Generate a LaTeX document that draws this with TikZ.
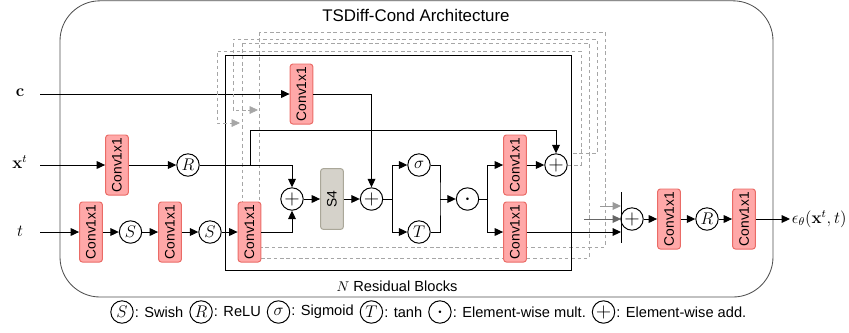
\documentclass[tikz,border=0pt]{standalone}
\usepackage[no-math]{fontspec}
\setmainfont{Liberation Sans}
\usepackage{amsmath}
\usepackage{bm}
\usepackage{tikz}
\usetikzlibrary{arrows.meta,positioning}

\definecolor{convfill}{HTML}{FFA8A8}
\definecolor{convline}{HTML}{EA6B66}
\definecolor{sfourfill}{HTML}{D5D2CA}
\definecolor{sfourline}{HTML}{AAA799}
\definecolor{stackgray}{HTML}{A6A6A6}
\definecolor{framegray}{HTML}{505050}

\newcommand{\convtext}{\rotatebox{90}{Conv1x1}}

\begin{document}
\begin{tikzpicture}
		[%%%%%%%%%%%%%%%%%%%%%%%%%%%%%%
		x=0.025cm, y=-0.025cm, line width=0.7pt,
		conv/.style={rectangle,draw=convline,fill=convfill,rounded corners=2pt,minimum width=0.57cm,minimum height=1.5cm,inner sep=0pt,font=\fontsize{9.8}{11}\selectfont},
		sfour/.style={rectangle,draw=sfourline,fill=sfourfill,rounded corners=2pt,minimum width=0.57cm,minimum height=1.52cm,inner sep=0pt,font=\fontsize{9.8}{11}\selectfont},
		op/.style={circle,draw=black,fill=white,minimum size=0.56cm,inner sep=0pt,font=\fontsize{12}{13}\selectfont},
		plus/.style={op,font=\fontsize{14}{15}\selectfont},
		inp/.style={font=\fontsize{12}{14}\selectfont},
		legtxt/.style={inner xsep=0.5pt,inner ysep=0pt,font=\fontsize{10.4}{12}\selectfont},
		arr/.style={-{Triangle[length=6pt,width=5.5pt]}},
		stack/.style={draw=stackgray,dash pattern=on 2.5pt off 2pt,line width=0.5pt},
		]%%%%%%%%%%%%%%%%%%%%%%%%%%%%%%
		
		\useasboundingbox (0,0) rectangle (849,332);
		
		% frame and title
		\draw[framegray,line width=0.6pt,rounded corners=1cm] (60,0.8) rectangle (773,297);
		\node[font=\fontsize{12}{14}\selectfont] (title) at (416,15) {TSDiff-Cond Architecture};
		
		% stacked blocks behind
		\draw[stack] (259,32) rectangle (605,247);
		\draw[stack] (242,43) rectangle (589,258);
		
		% front residual block
		\draw[line width=0.6pt] (225,55) rectangle (571,270);
		\node[legtxt] (nblocks) at (397,286) {$N$ Residual Blocks};
		
		% inputs
		\node[inp] (lc) at (20,93) {$\mathbf{c}$};
		\node[inp] (lx) at (20,162) {$\mathbf{x}^t$};
		\node[inp] (lt) at (20,231) {$t$};
		\coordinate (cin) at (40,94);
		\coordinate (xin) at (40,165);
		\coordinate (tin) at (40,232);
		
		% conv blocks
		\foreach \n/\x/\y in {cconv/301.5/94, xconv/117/165, tconv1/91/232, tconv2/170/232, tconv3/249.5/232,
			rconv1/515/165, rconv2/515/232, oconv1/669/219, oconv2/744/219}
		\node[conv] (\n) at (\x,\y) {\convtext};
		\node[sfour] (s4) at (332,199) {\rotatebox{90}{S4}};
		
		% operators
		\node[op] (xrelu) at (188,165) {$R$};
		\node[op] (swish1) at (130.5,232) {$S$};
		\node[op] (swish2) at (210,232) {$S$};
		\node[plus] (add1) at (292,199) {$+$};
		\node[plus] (add2) at (371.5,199) {$+$};
		\node[op] (sig) at (419,165) {$\sigma$};
		\node[op] (tanh) at (419,232) {$T$};
		\node[op] (mult) at (467.5,199) {$\boldsymbol{\cdot}$};
		\node[plus] (add3) at (556,165) {$+$};
		\node[plus] (add4) at (632,219) {$+$};
		\node[op] (orelu) at (707,219) {$R$};
		\node[inp,anchor=west,inner sep=1pt] (out) at (790,219) {$\epsilon_\theta(\mathbf{x}^t,t)$};
		
		% helper points
		\coordinate (skip) at (250,130);
		\coordinate (split1) at (392,199);
		\coordinate (join1) at (440,199);
		\coordinate (split2) at (487,199);
		\coordinate (bar) at (621,219);
		\coordinate (bartop) at (621,192);
		\coordinate (barbot) at (621,243);
		
		% condition and input paths
		\draw[arr] (cin) -- (cconv);
		\draw[arr] (cconv) -| (add2);
		\draw[arr] (xin) -- (xconv);
		\draw[arr] (xconv) -- (xrelu);
		\draw[arr] (xrelu) -| (skip) -| (add3);
		\draw[arr] (xrelu) -| (add1);
		
		% diffusion step path
		\draw[arr] (tin) -- (tconv1);
		\draw[arr] (tconv1) -- (swish1);
		\draw[arr] (swish1) -- (tconv2);
		\draw[arr] (tconv2) -- (swish2);
		\draw[arr] (swish2) -- (tconv3);
		\draw[arr] (tconv3) -| (add1);
		
		% residual block body
		\draw[arr] (add1) -- (s4);
		\draw[arr] (s4) -- (add2);
		\draw (add2) -- (split1);
		\draw[arr] (split1) |- (sig);
		\draw[arr] (split1) |- (tanh);
		\draw (sig) -| (join1) |- (tanh);
		\draw[arr] (join1) -- (mult);
		\draw (mult) -- (split2);
		\draw[arr] (split2) |- (rconv1);
		\draw[arr] (split2) |- (rconv2);
		\draw[arr] (rconv1) -- (add3);
		\draw[arr] (rconv2) -- (rconv2 -| bar);
		
		% stacked outputs
		\coordinate (back1) at (240,123);
		\coordinate (back2) at (258,110);
		\coordinate (out2) at (573,153);
		\coordinate (skip2) at (584,219);
		\coordinate (skip3) at (600,206);
		\draw[stack,-{Triangle[length=6pt,width=5.5pt,fill=stackgray]}] (add3.east) -| (581,51) -| (217,123) -- (back1);
		\draw[stack,-{Triangle[length=6pt,width=5.5pt,fill=stackgray]}] (out2) -| (597,39) -| (233,110) -- (back2);
		\draw[arr,draw=black!60] (skip2) -- (skip2 -| bar);
		\draw[arr,draw=black!40] (skip3) -- (skip3 -| bar);
		
		% output head
		\draw (bartop) -- (barbot);
		\draw[arr] (add4) -- (oconv1);
		\draw[arr] (oconv1) -- (orelu);
		\draw[arr] (orelu) -- (oconv2);
		\draw[arr] (oconv2) -- (out);
		
		% legend
		\node[op] (kS) at (122,312) {$S$};
		\node[legtxt,right=0pt of kS] (tS) {: Swish};
		\node[op,right=0.12cm of tS] (kR) {$R$};
		\node[legtxt,right=0pt of kR] (tR) {: ReLU};
		\node[op,right=0.12cm of tR] (ksig) {$\sigma$};
		\node[legtxt,right=0pt of ksig] (tsig) {: Sigmoid};
		\node[op,right=0.12cm of tsig] (kT) {$T$};
		\node[legtxt,right=0pt of kT] (tT) {: tanh};
		\node[op,right=0.12cm of tT] (kmult) {$\boldsymbol{\cdot}$};
		\node[legtxt,right=0pt of kmult] (tmult) {: Element-wise mult.};
		\node[plus,right=0.12cm of tmult] (kadd) {$+$};
		\node[legtxt,right=0pt of kadd] (tadd) {: Element-wise add.};
		\end{tikzpicture}
\end{document}
